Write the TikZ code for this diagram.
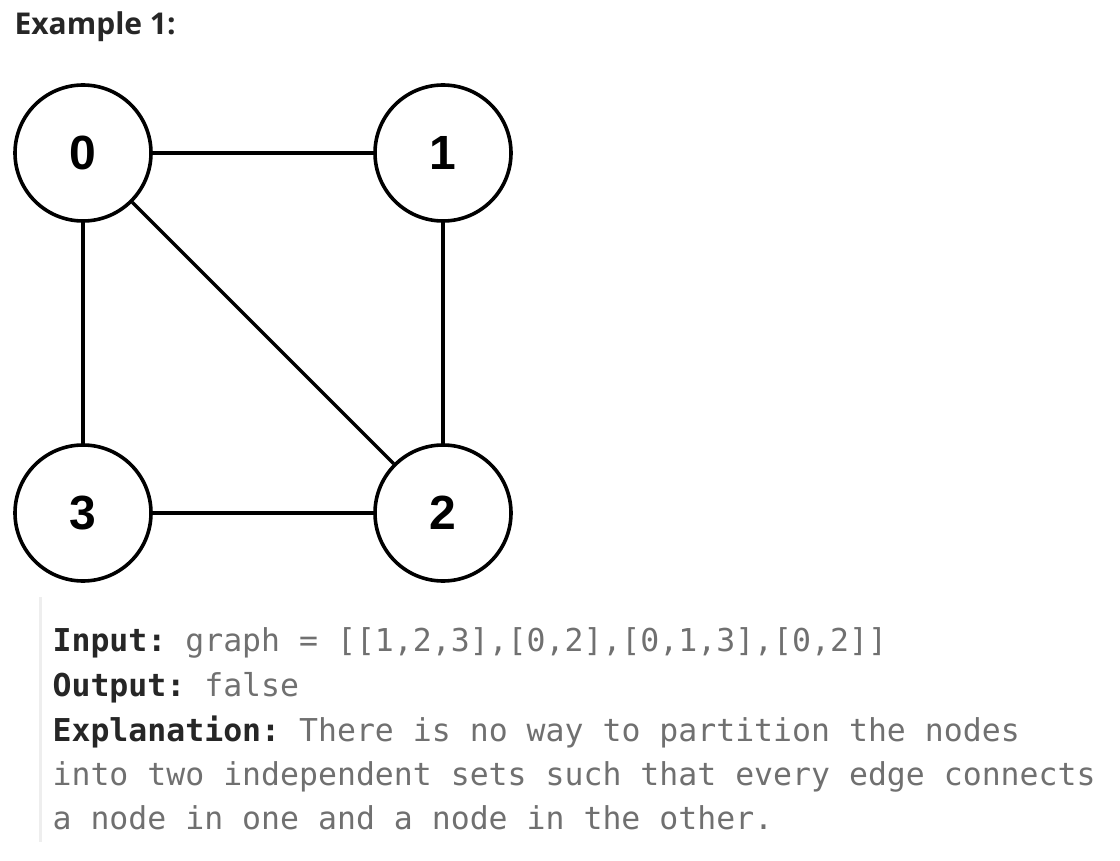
\documentclass[tikz,border=0pt]{standalone}
\usepackage{fontspec}
\setmainfont{Liberation Sans}
\setmonofont{DejaVu Sans Mono}
\newfontfamily\titlefont{Open Sans}
\usetikzlibrary{arrows,calc}
\definecolor{lblgray}{HTML}{262626}
\definecolor{valgray}{HTML}{707070}
\definecolor{bargray}{HTML}{EEEEEE}

\begin{document}
\begin{tikzpicture}[x=1pt,y=-1pt,line width=3.2pt,
      node/.style={circle,draw,line width=3.6pt,minimum size=136pt,inner sep=0pt,
        font=\fontsize{48}{48}\selectfont\bfseries},
      txt/.style={anchor=base west,inner sep=0pt,text=valgray,
        font=\fontsize{31.5}{31.5}\selectfont\ttfamily}]
      \useasboundingbox (0,0) rectangle (1120,861);

      \node[anchor=base west,inner sep=0pt,text=lblgray,
        font=\fontsize{30}{30}\selectfont\titlefont\bfseries] (title) at (13,35) {Example 1:};

      \node[node] (n0) at ( 83, 153) {0};
      \node[node] (n1) at (443, 153) {1};
      \node[node] (n2) at (443, 513) {2};
      \node[node] (n3) at ( 83, 513) {3};

      \path
      (n0) edge (n1)
      (n0) edge (n3)
      (n0) edge (n2)
      (n1) edge (n2)
      (n3) edge (n2)
      ;

      % quote bar
      \fill[bargray] (39,597) rectangle (42,842);

      \node[txt] (inp) at (51,651) {\textcolor{lblgray}{\bfseries Input:} graph = [[1,2,3],[0,2],[0,1,3],[0,2]]};
      \node[txt] (outp) at (51,696) {\textcolor{lblgray}{\bfseries Output:} false};
      \node[txt] (expa) at (51,741) {\textcolor{lblgray}{\bfseries Explanation:} There is no way to partition the nodes};
      \node[txt] (expb) at (51,785) {into two independent sets such that every edge connects};
      \node[txt] (expc) at (51,829) {a node in one and a node in the other.};
\end{tikzpicture}
\end{document}
